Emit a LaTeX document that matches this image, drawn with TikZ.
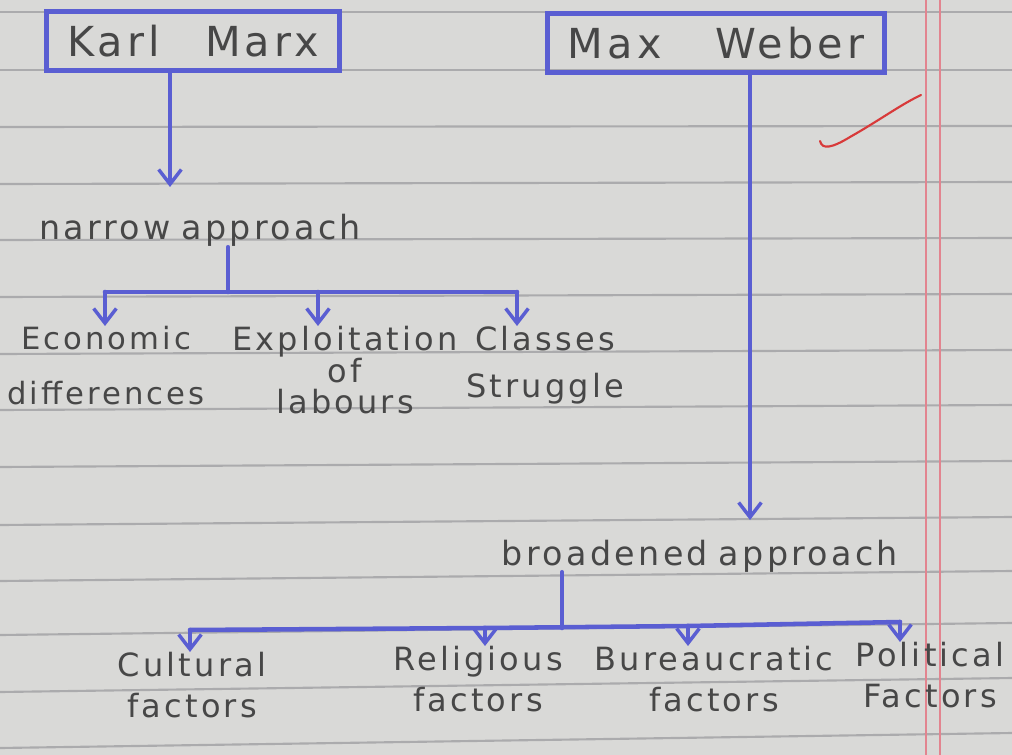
\documentclass[tikz,border=0pt]{standalone}
\usepackage{fontspec}
\newfontfamily\hand[LetterSpace=10]{DejaVu Sans}
\usetikzlibrary{arrows.meta}
\definecolor{paper}{HTML}{D9D9D7}
\definecolor{rulec}{HTML}{ABABAD}
\definecolor{ink}{HTML}{5A5ED2}
\definecolor{pencil}{HTML}{474747}
\definecolor{marginc}{HTML}{E2848F}
\definecolor{tick}{HTML}{D83A3A}
\begin{document}
\begin{tikzpicture}[x=0.75pt,y=-0.75pt,
  inkline/.style={draw=ink,line width=3.4pt,line cap=round,line join=round},
  inkarrow/.style={inkline,-{Straight Barb[length=11pt,width=17pt,line width=2.6pt]}},
  word/.style={text=pencil,inner sep=0pt,align=center,font=\hand\fontsize{24}{31}\selectfont},
  titlebox/.style={draw=ink,line width=3.4pt,text=pencil,inner sep=0pt,font=\hand\fontsize{31}{33}\selectfont},
  paperrule/.style={draw=rulec,line width=1.6pt},
  marginline/.style={draw=marginc,line width=0.9pt}]
\useasboundingbox (0,0) rectangle (1012,755);
\fill[paper] (0,0) rectangle (1012,755);
% ruled lines
\foreach \y/\d in {12/0,70/0,127/1,184/2,240/2,297/3,354/4,410/5,467/6,525/8,581/10,635/12,692/14,748/15}
  \draw[paperrule] (0,\y) -- (1012,\y-\d);
% margin lines
\draw[marginline] (926,0) -- (926,755);
\draw[marginline] (940,0) -- (940,755);
% red tick
\draw[tick,line width=1.6pt,line cap=round] (820,141) .. controls (822,150) and (832,148) .. (850,137) .. controls (880,120) and (900,105) .. (921,95);

% title boxes
\node[titlebox,minimum width=220pt,minimum height=44pt] (kmarx) at (193,41) {Karl\hspace{34pt}Marx};
\node[titlebox,minimum width=253pt,minimum height=44pt] (mweber) at (716,43) {Max\hspace{40pt}Weber};

% Marx branch
\node[word,anchor=base,font=\hand\fontsize{25}{31}\selectfont] (narrow) at (200,240) {narrow\hspace{8pt}approach};
\coordinate (kmx) at (170,0);
\draw[inkarrow] (kmarx.south -| kmx) -- (170,187);
\coordinate (nj) at (228,292);
\coordinate (na) at (105,292);
\coordinate (nb) at (318,292);
\coordinate (nc) at (517,292);
\node[word,anchor=north,font=\hand\fontsize{23}{41}\selectfont] (econ) at (106,326) {Economic\\differences};
\node[word,anchor=north,font=\hand\fontsize{24}{23}\selectfont] (exploit) at (345,326) {Exploitation\\of\\labours};
\node[word,anchor=north,font=\hand\fontsize{24}{35}\selectfont] (class) at (545,326) {Classes\\Struggle};
\draw[inkline] (narrow.south -| nj) -- (nj);
\draw[inkline] (na) -- (nc);
\draw[inkarrow] (na) -- (na |- econ.north);
\draw[inkarrow] (nb) -- (nb |- exploit.north);
\draw[inkarrow] (nc) -- (nc |- class.north);

% Weber branch
\node[word,anchor=base,font=\hand\fontsize{25}{31}\selectfont] (broad) at (700,565) {broadened\hspace{8pt}approach};
\coordinate (wmx) at (750,0);
\draw[inkarrow] (mweber.south -| wmx) -- (750,520);
\coordinate (bj) at (562,628);
\coordinate (ba) at (190,630);
\coordinate (bb) at (485,628);
\coordinate (bc) at (688,626);
\coordinate (bd) at (900,622);
\node[word,anchor=north] (cult) at (192,652) {Cultural\\factors};
\node[word,anchor=north] (relig) at (478,646) {Religious\\factors};
\node[word,anchor=north] (bureau) at (714,646) {Bureaucratic\\factors};
\node[word,anchor=north] (polit) at (930,642) {Political\\Factors};
\draw[inkline] (broad.south -| bj) -- (bj);
\draw[inkline] (ba) -- (bb) -- (bc) -- (bd);
\draw[inkarrow] (ba) -- (ba |- cult.north);
\draw[inkarrow] (bb) -- (bb |- relig.north);
\draw[inkarrow] (bc) -- (bc |- bureau.north);
\draw[inkarrow] (bd) -- (bd |- polit.north);
\end{tikzpicture}
\end{document}
